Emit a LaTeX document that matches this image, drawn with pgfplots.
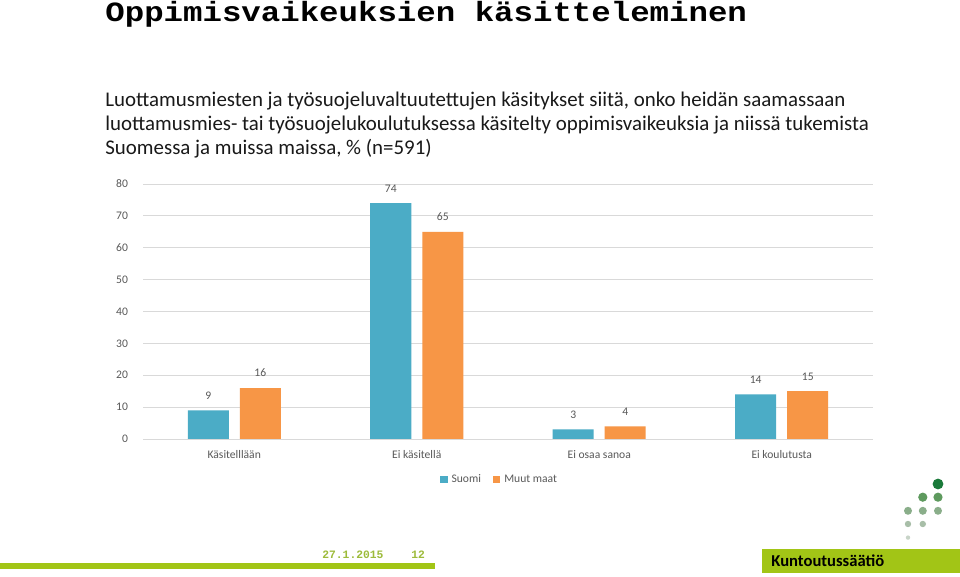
\documentclass[border=0pt]{standalone}
\usepackage{fontspec}
\setmainfont{Carlito}
\newfontfamily\monofont{Liberation Mono}
\usepackage{pgfplots}
\pgfplotsset{compat=1.18}

\definecolor{suomi}{HTML}{4BACC6}
\definecolor{muut}{HTML}{F79646}
\definecolor{txtgray}{HTML}{595959}
\definecolor{gridgray}{HTML}{D9D9D9}
\definecolor{kgreen}{HTML}{A2C516}
\definecolor{datecol}{HTML}{9DBB3A}
\definecolor{dot1}{HTML}{1A7A3A}
\definecolor{dot2}{HTML}{5E9A5E}
\definecolor{dot3}{HTML}{8AAE8A}
\definecolor{dot4}{HTML}{A8BEA8}
\definecolor{dot5}{HTML}{C8D4C8}

\begin{document}
\begin{tikzpicture}
\useasboundingbox (0,0) rectangle (480pt,-288.5pt);
\fill[white] (0,0) rectangle (480pt,-288.5pt);

% otsikko
\node[anchor=north west, inner sep=0] at (52.5pt,-0.6pt)
  {\scalebox{1}[0.86]{\monofont\bfseries\fontsize{16.2}{18}\selectfont Oppimisvaikeuksien käsitteleminen}};

% alaotsikko
\begin{scope}[every node/.style={anchor=base west, inner sep=0, text=black!90}]
\node at (52.5pt,-53.5pt) {\fontsize{10.45}{12}\selectfont Luottamusmiesten ja työsuojeluvaltuutettujen käsitykset siitä, onko heidän saamassaan};
\node at (52.5pt,-65.5pt) {\fontsize{10.45}{12}\selectfont luottamusmies- tai työsuojelukoulutuksessa käsitelty oppimisvaikeuksia ja niissä tukemista};
\node at (52.5pt,-77.5pt) {\fontsize{10.45}{12}\selectfont Suomessa ja muissa maissa, \% (n=591)};
\end{scope}

\begin{axis}[
    at={(71.5pt,-219.5pt)}, anchor=south west,
    scale only axis,
    width=365pt, height=127.5pt,
    ybar=5.5pt, bar width=20.5pt,
    xmin=-0.5, xmax=3.5,
    ymin=0, ymax=80,
    ytick={0,10,...,80},
    xtick=data,
    xticklabels={Käsitelllään, Ei käsitellä, Ei osaa sanoa, Ei koulutusta},
    /pgf/number format/assume math mode=true,
    axis lines*=left,
    y axis line style={draw=none},
    x axis line style={draw=gridgray},
    tick style={draw=none},
    ymajorgrids=true,
    grid style={gridgray, line width=0.4pt},
    tick label style={font=\fontsize{5.8}{7}\selectfont, text=txtgray},
    yticklabel style={xshift=-4pt},
    xticklabel style={anchor=center, yshift=-3.5pt},
    nodes near coords,
    every node near coord/.append style={font=\fontsize{5.8}{7}\selectfont, text=txtgray, yshift=2pt},
    legend style={at={(0.49,-0.16)}, anchor=center, draw=none, fill=none, legend columns=2,
        font=\fontsize{5.8}{7}\selectfont, text=txtgray,
        /tikz/every even column/.append style={column sep=4pt}},
    legend image code/.code={\fill[#1] (0pt,-1.8pt) rectangle (3.6pt,1.8pt);},
]
\addplot[fill=suomi, draw=none]
    coordinates {(0,9) (1,74) (2,3) (3,14)};
\addplot[fill=muut, draw=none]
    coordinates {(0,16) (1,65) (2,4) (3,15)};
\legend{Suomi, Muut maat}
\end{axis}

% alapalkki
\fill[kgreen] (0,-281.5pt) rectangle (217.5pt,-284.5pt);
\node[anchor=base west, inner sep=0, text=datecol] at (161pt,-279.5pt)
  {\monofont\bfseries\fontsize{5.65}{7}\selectfont 27.1.2015};
\node[anchor=base west, inner sep=0, text=datecol] at (205.5pt,-279.5pt)
  {\monofont\bfseries\fontsize{5.65}{7}\selectfont 12};
\fill[kgreen] (381pt,-274.5pt) rectangle (480pt,-286.5pt);
\node[anchor=base west, inner sep=0, text=black] at (385.5pt,-283.5pt)
  {\bfseries\fontsize{8.3}{9}\selectfont Kuntoutussäätiö};

% logon pisteet
\fill[dot1] (469pt,-242pt) circle (2.7pt);
\fill[dot2] (461.4pt,-248.6pt) circle (2.3pt);
\fill[dot2] (469pt,-248.6pt) circle (2.3pt);
\fill[dot3] (454pt,-255.4pt) circle (2pt);
\fill[dot3] (461.4pt,-255.4pt) circle (2pt);
\fill[dot3] (469pt,-255.4pt) circle (2pt);
\fill[dot4] (454pt,-262pt) circle (1.6pt);
\fill[dot4] (461.4pt,-262pt) circle (1.6pt);
\fill[dot5] (454pt,-268.8pt) circle (1.1pt);
\end{tikzpicture}
\end{document}
